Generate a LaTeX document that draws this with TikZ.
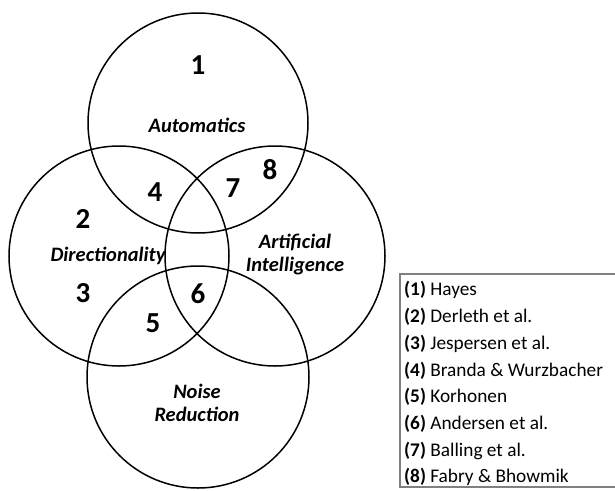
\documentclass[tikz,border=0pt]{standalone}
\usepackage{fontspec}
\setmainfont{Carlito}
\usepackage{tikz}

\tikzset{
  venn/.style={black, line width=1.5pt},
  num/.style={font=\fontsize{29}{29}\selectfont\bfseries},
  area/.style={font=\fontsize{20.5}{23}\selectfont\bfseries\itshape, align=center},
  ref/.style={anchor=west, font=\fontsize{19.3}{21}\selectfont}
}

\begin{document}
\begin{tikzpicture}[x=1pt,y=1pt]
\tikzstyle{every node}+=[inner sep=0pt]
\path[use as bounding box, clip] (0,0) rectangle (615,-490);
\fill [white] (0,0) rectangle (615,-490);
\draw [venn] (198,-123) circle (110);
\draw [venn] (119,-256) circle (110);
\draw [venn] (275,-256) circle (110);
\draw [venn] (198,-377) circle (111);
\node [area] (automatics) at (197,-125) {Automatics};
\node [area] (direction) at (108,-256) {Directionality};
\node [area] (ai) at (295,-255) {Artificial\\Intelligence};
\node [area] (noise) at (197,-403) {Noise\\Reduction};
\node [num] (n1) at (198,-65) {1};
\node [num] (n2) at (83,-219) {2};
\node [num] (n3) at (83,-293) {3};
\node [num] (n4) at (155,-192) {4};
\node [num] (n5) at (153,-323) {5};
\node [num] (n6) at (198,-294) {6};
\node [num] (n7) at (233,-188) {7};
\node [num] (n8) at (270,-170) {8};
% legend
\draw [gray, line width=1.3pt] (400,-274) rectangle (640,-487);
\node [ref] (r1) at (404,-290) {\textbf{(1)} Hayes};
\node [ref] (r2) at (404,-317) {\textbf{(2)} Derleth et al.};
\node [ref] (r3) at (404,-344) {\textbf{(3)} Jespersen et al.};
\node [ref] (r4) at (404,-371) {\textbf{(4)} Branda \& Wurzbacher};
\node [ref] (r5) at (404,-397) {\textbf{(5)} Korhonen};
\node [ref] (r6) at (404,-424) {\textbf{(6)} Andersen et al.};
\node [ref] (r7) at (404,-451) {\textbf{(7)} Balling et al.};
\node [ref] (r8) at (404,-477) {\textbf{(8)} Fabry \& Bhowmik};
\end{tikzpicture}
\end{document}
